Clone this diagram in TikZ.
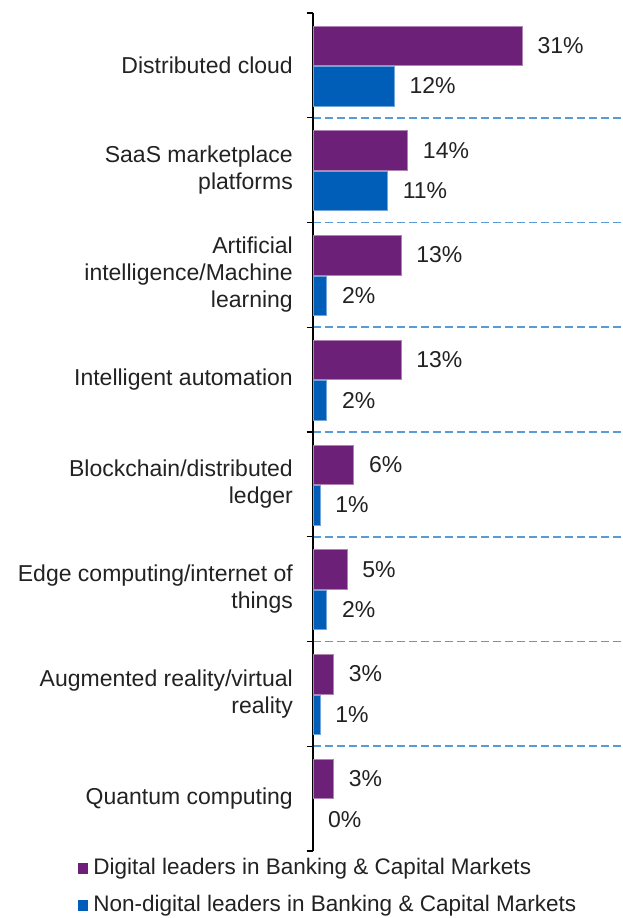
\documentclass[tikz,border=0pt]{standalone}
\usepackage{fontspec}
\setmainfont{Liberation Sans}
\usetikzlibrary{positioning}
\definecolor{kpmgpurple}{RGB}{109,32,119}
\definecolor{kpmgblue}{RGB}{0,94,184}
\definecolor{gridblue}{RGB}{91,155,213}
\definecolor{labelgray}{RGB}{34,34,34}

\begin{document}
\begin{tikzpicture}
    [x=1pt,y=-1pt,
    font=\fontsize{23}{27}\selectfont,
    leader/.style={rectangle,fill=kpmgpurple,draw=kpmgpurple!55!white,line width=0.4pt,
    inner sep=0pt,minimum height=39.5pt,anchor=north west},
    follower/.style={rectangle,fill=kpmgblue,draw=kpmgblue!55!white,line width=0.4pt,
    inner sep=0pt,minimum height=39.5pt,anchor=north west},
    category/.style={anchor=east,align=right,inner sep=0pt,text=labelgray},
    share/.style={inner sep=0pt,text=labelgray},
    separator/.style={gridblue,line width=1.6pt,dash pattern=on 8pt off 4pt},
    legend key/.style={rectangle,inner sep=0pt,minimum width=10pt,minimum height=11pt}]
    \useasboundingbox (0,0) rectangle (622,918);

    % dashed separators between the categories
    \draw[separator] (313,117.75) -- (622,117.75);
    \draw[separator] (313,222.5) -- (622,222.5);
    \draw[separator] (313,327.25) -- (622,327.25);
    \draw[separator] (313,432) -- (622,432);
    \draw[separator] (313,536.75) -- (622,536.75);
    \draw[separator] (313,641.5) -- (622,641.5);
    \draw[separator] (313,746.25) -- (622,746.25);

    % axis and ticks
    \draw[line width=1.5pt] (313,13) -- (313,851);
    \draw[line width=1.3pt] (306.5,13) -- (313,13) (306.5,117.75) -- (313,117.75)
        (306.5,222.5) -- (313,222.5) (306.5,327.25) -- (313,327.25)
        (306.5,432) -- (313,432) (306.5,536.75) -- (313,536.75)
        (306.5,641.5) -- (313,641.5) (306.5,746.25) -- (313,746.25)
        (306.5,851) -- (313,851);

    % Distributed cloud
    \node[category] (cloud label) at (293,65.4) {Distributed cloud};
    \node[leader,minimum width=31*6.742pt] (cloud digital) at (313,25.5) {};
    \node[follower,minimum width=12*6.742pt] (cloud other) at (313,66) {};
    \node[share,right=15pt of cloud digital] {31\%};
    \node[share,right=15pt of cloud other] {12\%};

    % SaaS marketplace platforms
    \node[category] (saas label) at (293,170.1) {SaaS marketplace\\platforms};
    \node[leader,minimum width=14*6.742pt] (saas digital) at (313,130.25) {};
    \node[follower,minimum width=11*6.742pt] (saas other) at (313,170.75) {};
    \node[share,right=15pt of saas digital] {14\%};
    \node[share,right=15pt of saas other] {11\%};

    % Artificial intelligence
    \node[category] (ai label) at (293,274.9) {Artificial\\intelligence/Machine\\learning};
    \node[leader,minimum width=13*6.742pt] (ai digital) at (313,235) {};
    \node[follower,minimum width=2*6.742pt] (ai other) at (313,275.5) {};
    \node[share,right=15pt of ai digital] {13\%};
    \node[share,right=15pt of ai other] {2\%};

    % Intelligent automation
    \node[category] (automation label) at (293,379.6) {Intelligent automation};
    \node[leader,minimum width=13*6.742pt] (automation digital) at (313,339.75) {};
    \node[follower,minimum width=2*6.742pt] (automation other) at (313,380.25) {};
    \node[share,right=15pt of automation digital] {13\%};
    \node[share,right=15pt of automation other] {2\%};

    % Blockchain
    \node[category] (blockchain label) at (293,484.4) {Blockchain/distributed\\ledger};
    \node[leader,minimum width=6*6.742pt] (blockchain digital) at (313,444.5) {};
    \node[follower,minimum width=1*6.742pt] (blockchain other) at (313,485) {};
    \node[share,right=15pt of blockchain digital] {6\%};
    \node[share,right=15pt of blockchain other] {1\%};

    % Edge computing
    \node[category] (edge label) at (293,589.1) {Edge computing/internet of\\things};
    \node[leader,minimum width=5*6.742pt] (edge digital) at (313,549.25) {};
    \node[follower,minimum width=2*6.742pt] (edge other) at (313,589.75) {};
    \node[share,right=15pt of edge digital] {5\%};
    \node[share,right=15pt of edge other] {2\%};

    % Augmented reality
    \node[category] (reality label) at (293,693.9) {Augmented reality/virtual\\reality};
    \node[leader,minimum width=3*6.742pt] (reality digital) at (313,654) {};
    \node[follower,minimum width=1*6.742pt] (reality other) at (313,694.5) {};
    \node[share,right=15pt of reality digital] {3\%};
    \node[share,right=15pt of reality other] {1\%};

    % Quantum computing
    \node[category] (quantum label) at (293,798.6) {Quantum computing};
    \node[leader,minimum width=3*6.742pt] (quantum digital) at (313,758.75) {};
    \coordinate (quantum other) at (313,819.25);
    \node[share,right=15pt of quantum digital] {3\%};
    \node[share,right=15pt of quantum other] {0\%};

    % legend
    \node[legend key,fill=kpmgpurple] (key digital) at (83,868.5) {};
    \node[share,font=\fontsize{22.5}{27}\selectfont,right=5pt of key digital] (legend digital) {Digital leaders in Banking \& Capital Markets};
    \node[legend key,fill=kpmgblue] (key other) at (83,905.5) {};
    \node[share,font=\fontsize{22.5}{27}\selectfont,right=5pt of key other] (legend other) {Non-digital leaders in Banking \& Capital Markets};
\end{tikzpicture}
\end{document}
